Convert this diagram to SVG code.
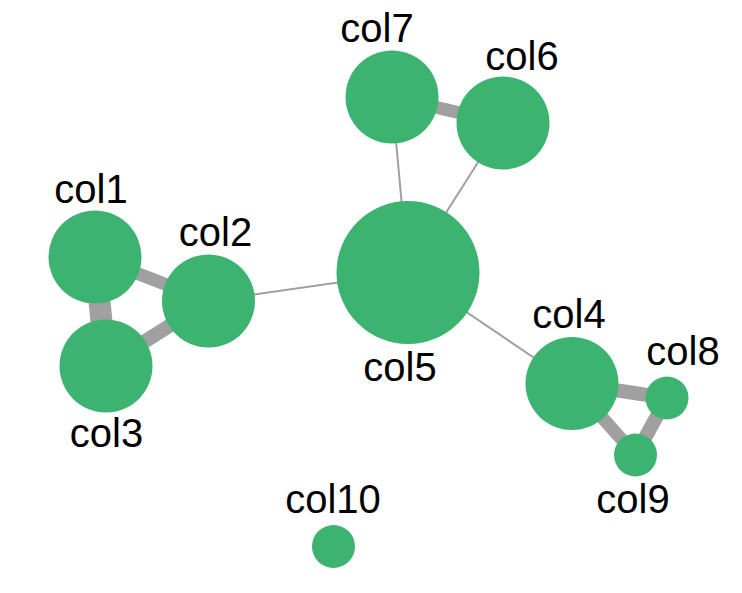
<svg xmlns="http://www.w3.org/2000/svg" width="742" height="593" viewBox="0 0 742 593">
<style>
.edge{stroke:#a0a0a0;stroke-linecap:butt;fill:none}
.node circle{fill:#3cb371}
.node text{font-family:"Liberation Sans",Arial,Helvetica,sans-serif;font-size:40px;fill:#000;text-anchor:middle}
</style>
<rect width="742" height="593" fill="#fff"/>
<g id="connectors">
<line class="edge" x1="95" y1="257" x2="106" y2="366" stroke-width="22"/>
<line class="edge" x1="95" y1="257" x2="208.5" y2="301" stroke-width="13"/>
<line class="edge" x1="106" y1="366" x2="208.5" y2="301" stroke-width="14"/>
<line class="edge" x1="208.5" y1="301" x2="408" y2="272.5" stroke-width="2"/>
<line class="edge" x1="392" y1="97" x2="503" y2="123" stroke-width="13"/>
<line class="edge" x1="392" y1="97" x2="408" y2="272.5" stroke-width="2"/>
<line class="edge" x1="503" y1="123" x2="408" y2="272.5" stroke-width="2"/>
<line class="edge" x1="408" y1="272.5" x2="572" y2="383.5" stroke-width="2"/>
<line class="edge" x1="572" y1="383.5" x2="667" y2="398" stroke-width="14"/>
<line class="edge" x1="572" y1="383.5" x2="635.5" y2="455" stroke-width="13"/>
<line class="edge" x1="667" y1="398" x2="635.5" y2="455" stroke-width="14"/>
</g>
<g id="col1" class="node"><circle cx="95" cy="257" r="46.5"/><text x="91" y="203">col1</text></g>
<g id="col2" class="node"><circle cx="208.5" cy="301" r="46.5"/><text x="215.5" y="246">col2</text></g>
<g id="col3" class="node"><circle cx="106" cy="366" r="46.5"/><text x="106.5" y="447">col3</text></g>
<g id="col5" class="node"><circle cx="408" cy="272.5" r="71.5"/><text x="400" y="381">col5</text></g>
<g id="col7" class="node"><circle cx="392" cy="97" r="46.5"/><text x="377" y="42">col7</text></g>
<g id="col6" class="node"><circle cx="503" cy="123" r="46.5"/><text x="522" y="70">col6</text></g>
<g id="col4" class="node"><circle cx="572" cy="383.5" r="46.5"/><text x="569" y="328">col4</text></g>
<g id="col8" class="node"><circle cx="667" cy="398" r="21.5"/><text x="683" y="365">col8</text></g>
<g id="col9" class="node"><circle cx="635.5" cy="455" r="21.5"/><text x="633" y="513">col9</text></g>
<g id="col10" class="node"><circle cx="333.5" cy="546.5" r="21.5"/><text x="333" y="513">col10</text></g>
</svg>
